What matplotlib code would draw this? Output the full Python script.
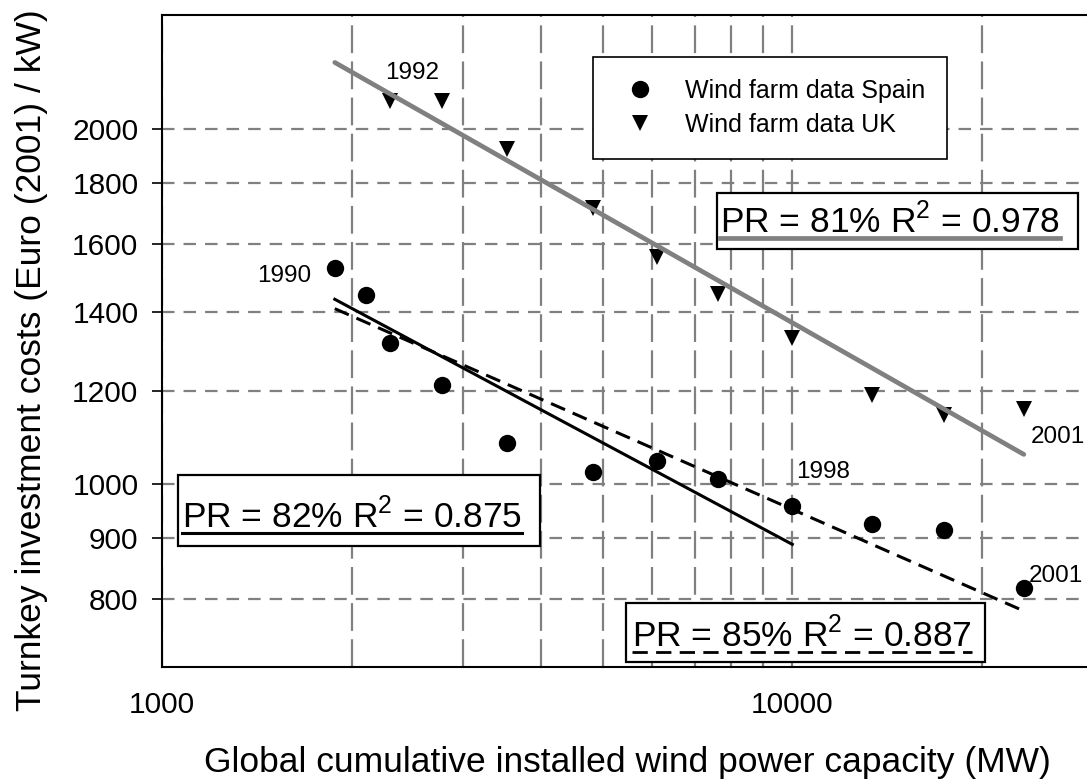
import numpy as np
import matplotlib
matplotlib.use("Agg")
import matplotlib.pyplot as plt
from matplotlib.lines import Line2D
from matplotlib.patches import Rectangle
from matplotlib.ticker import FixedLocator, NullFormatter, NullLocator, FuncFormatter

plt.rcParams["font.family"] = ["Liberation Sans", "DejaVu Sans"]
plt.rcParams["lines.scale_dashes"] = False

# Global cumulative installed capacity (MW), one value per year 1990-2001
years = list(range(1990, 2002))
capacity_mw = [1880, 2110, 2300, 2780, 3530, 4830, 6100, 7630, 10000, 13400, 17400, 23300]

# Turnkey investment costs (Euro(2001)/kW)
cost_spain = [1526, 1446, 1318, 1215, 1085, 1025, 1046, 1010, 959, 926, 914, 816]
years_uk = list(range(1992, 2002))
cost_uk = [2113, 2113, 1925, 1716, 1558, 1449, 1331, 1191, 1144, 1158]

# Experience-curve results (progress ratio, coefficient of determination)
pr_uk, r2_uk = 0.81, 0.978
pr_spain_98, r2_spain_98 = 0.82, 0.875
pr_spain_all, r2_spain_all = 0.85, 0.887

y_ticks = [800, 900, 1000, 1200, 1400, 1600, 1800, 2000]
x_ticks = [1000, 10000]
x_minor = [2000, 3000, 4000, 5000, 6000, 7000, 8000, 9000, 20000]

GRAY = "#808080"


def experience_curve(x, y, pr):
    """Power law y = a * x**b with b = log2(PR); a from least squares in log space."""
    b = np.log2(pr)
    a = np.mean(np.log10(y) - b * np.log10(x))
    return lambda xx: 10 ** (a + b * np.log10(xx))


cap_of = dict(zip(years, capacity_mw))
capacity_uk = [cap_of[y] for y in years_uk]
i98 = years.index(1998)

fit_uk = experience_curve(capacity_uk, cost_uk, pr_uk)
fit_sp98 = experience_curve(capacity_mw[: i98 + 1], cost_spain[: i98 + 1], pr_spain_98)
fit_spall = experience_curve(capacity_mw, cost_spain, pr_spain_all)

W, H = 1087, 783
fig = plt.figure(figsize=(W / 100, H / 100), dpi=100)
ax = fig.add_axes([162 / W, 1 - 667 / H, 931 / W, 652 / H])
ax.set_xscale("log")
ax.set_yscale("log")
ax.set_xlim(1000, 30000)
ax.set_ylim(700, 2500)

# grid
ax.set_axisbelow(True)
ax.xaxis.set_major_locator(FixedLocator(x_ticks))
ax.xaxis.set_minor_locator(FixedLocator(x_minor))
ax.xaxis.set_major_formatter(FuncFormatter(lambda v, p: f"{v:.0f}"))
ax.xaxis.set_minor_formatter(NullFormatter())
ax.yaxis.set_major_locator(FixedLocator(y_ticks))
ax.yaxis.set_minor_locator(NullLocator())
ax.yaxis.set_major_formatter(FuncFormatter(lambda v, p: f"{v:.0f}"))
ax.grid(which="both", axis="x", color=GRAY, lw=1.6, linestyle=(0, (20, 6)))
ax.grid(which="major", axis="y", color=GRAY, lw=1.6, linestyle=(0, (9, 6.5)))

ax.tick_params(axis="x", which="both", length=0, pad=17, labelsize=21.5)
ax.tick_params(axis="y", which="major", direction="out", length=7, width=1.2,
               pad=10, labelsize=21.5)
for s in ax.spines.values():
    s.set_linewidth(1.5)
    s.set_color("black")

# data points
ax.plot(capacity_mw, cost_spain, "o", color="black", ms=12.5, mew=0, zorder=3)
ax.plot(capacity_uk, cost_uk, "v", color="black", ms=12, mew=0, zorder=3)

# fitted experience curves
xs_all = np.array([capacity_mw[0], capacity_mw[-1]])
xs_98 = np.array([capacity_mw[0], capacity_mw[i98]])
ax.plot(xs_all, fit_uk(xs_all), color=GRAY, lw=3.4, solid_capstyle="round", zorder=4)
ax.plot(xs_98, fit_sp98(xs_98), color="black", lw=2.2, zorder=4)
ax.plot(xs_all, fit_spall(xs_all), color="black", lw=2.2, linestyle=(0, (11, 6)), zorder=4)

# year annotations
ann = dict(textcoords="offset points", fontsize=17.5, va="baseline")
ax.annotate("1990", xy=(capacity_mw[0], cost_spain[0]), xytext=(-17, -10.4), ha="right", **ann)
ax.annotate("1992", xy=(capacity_uk[0], cost_uk[0]), xytext=(15.8, 15.8), ha="center", **ann)
ax.annotate("1998", xy=(capacity_mw[i98], cost_spain[i98]), xytext=(2.5, 19.8), ha="left", **ann)
ax.annotate("2001", xy=(capacity_mw[-1], cost_spain[-1]), xytext=(3.6, 4.5), ha="left", **ann)
ax.annotate("2001", xy=(capacity_uk[-1], cost_uk[-1]), xytext=(5, -24.7), ha="left", **ann)

# legend
handles = [
    Line2D([], [], marker="o", ls="none", color="black", ms=12.5, mew=0),
    Line2D([], [], marker="v", ls="none", color="black", ms=12, mew=0),
]
leg = ax.legend(handles, ["Wind farm data Spain", "Wind farm data UK"],
                loc="upper left", bbox_to_anchor=(0.4629, 0.9356), borderaxespad=0,
                fontsize=18, handlelength=2.0, handletextpad=0.8, borderpad=0.88,
                labelspacing=0.4, fancybox=False, framealpha=1, edgecolor="black")
leg.get_frame().set_linewidth(1.2)
leg.set_zorder(6)

# progress-ratio boxes
boxes = [
    (f"PR = {pr_uk:.0%} R$^\\mathregular{{2}}$ = {r2_uk:.3f}",
     (0.5961, 0.6411, 0.3878, 0.0859), (0.5994, 0.6656),
     dict(color=GRAY, lw=3.4)),
    (f"PR = {pr_spain_98:.0%} R$^\\mathregular{{2}}$ = {r2_spain_98:.3f}",
     (0.0172, 0.1856, 0.3888, 0.1089), (0.0215, 0.2132),
     dict(color="black", lw=2.2)),
    (f"PR = {pr_spain_all:.0%} R$^\\mathregular{{2}}$ = {r2_spain_all:.3f}",
     (0.4984, 0.0077, 0.3856, 0.0905), (0.5048, 0.0307),
     dict(color="black", lw=2.0, linestyle=(0, (11, 6)))),
]
texts = []
for label, (bx, by, bw, bh), (tx, ty), style in boxes:
    ax.add_patch(Rectangle((bx, by), bw, bh, transform=ax.transAxes, fc="white",
                           ec="black", lw=1.6, zorder=6))
    t = ax.text(tx, ty, label, transform=ax.transAxes, fontsize=25.5, ha="left",
                va="baseline", zorder=7)
    texts.append((t, ty, style))

fig.canvas.draw()
renderer = fig.canvas.get_renderer()
inv = ax.transAxes.inverted()
for t, ty, style in texts:
    bb = t.get_window_extent(renderer)
    x0 = inv.transform((bb.x0, bb.y0))[0]
    x1 = inv.transform((bb.x1, bb.y0))[0]
    ax.add_line(Line2D([x0, x1], [ty - 0.0075, ty - 0.0075], transform=ax.transAxes,
                       zorder=7, **style))

ax.set_xlabel("Global cumulative installed wind power capacity (MW)", fontsize=25.5,
              labelpad=20)
ax.set_ylabel("Turnkey investment costs (Euro (2001) / kW)", fontsize=25.5)
ax.yaxis.set_label_coords(-0.122, 0.4709)

fig.savefig("out.png", dpi=100, facecolor="white")
